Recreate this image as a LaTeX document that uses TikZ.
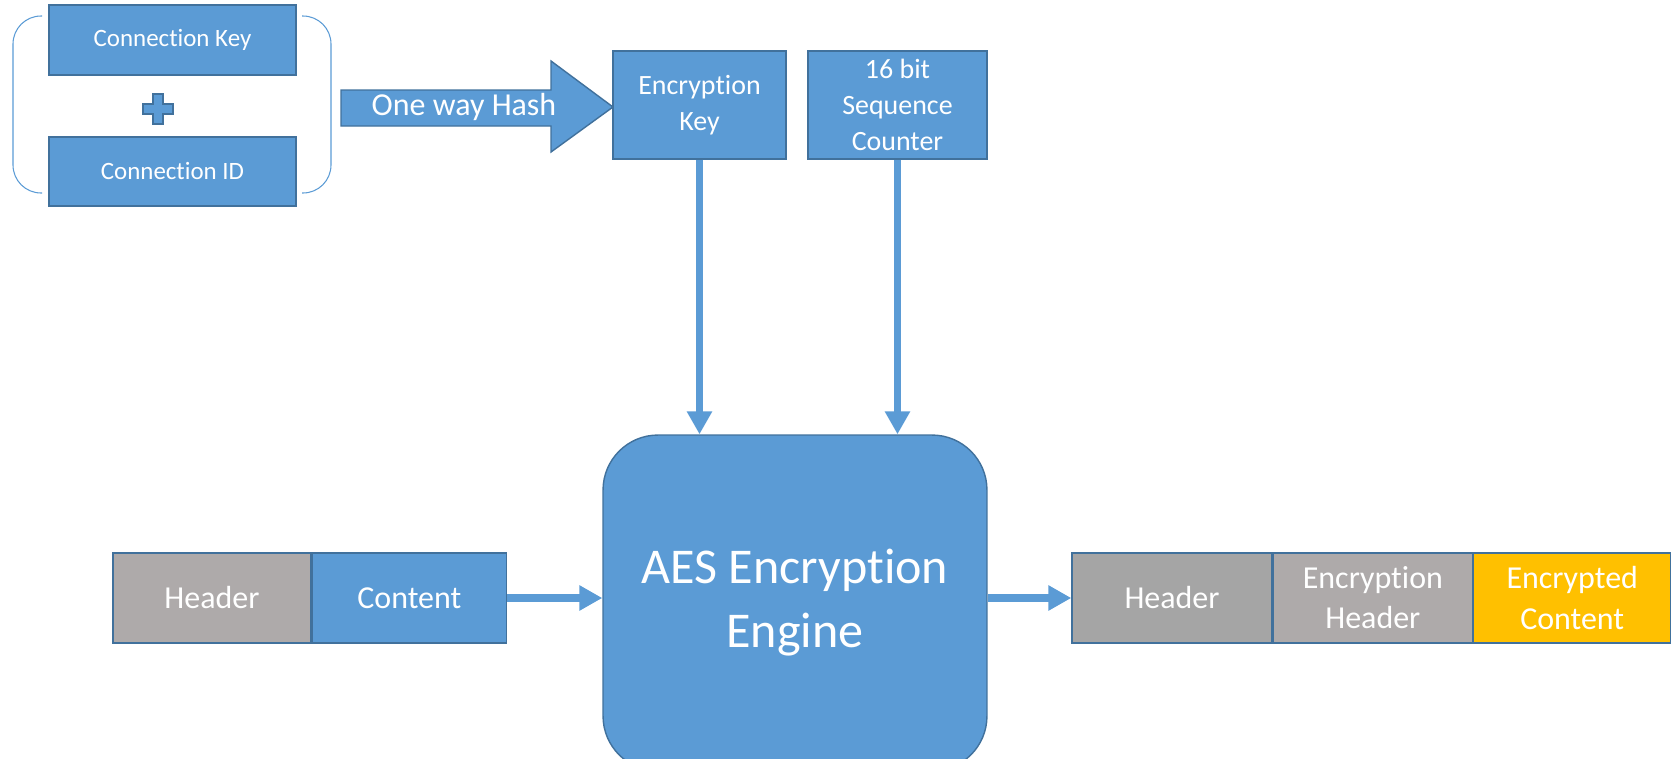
\documentclass[tikz,border=0pt]{standalone}
\usepackage{fontspec}
\setmainfont{Carlito}[Ligatures=NoCommon]
\usetikzlibrary{arrows.meta,positioning}
\definecolor{boxblue}{HTML}{5B9BD5}
\definecolor{edgeblue}{HTML}{41719C}
\definecolor{warmgray}{HTML}{AEAAAA}
\definecolor{plaingray}{HTML}{A5A5A5}
\definecolor{encyellow}{HTML}{FFC000}

\begin{document}
\begin{tikzpicture}[x=0.02cm,y=-0.02cm,>={Triangle[width=0.48cm,length=0.46cm]},
  blk/.style={draw=edgeblue,line width=0.8pt,fill=boxblue,text=white,inner sep=0pt,align=center},
  small/.style={font=\fontsize{14.2}{17}\selectfont},
  mid/.style={font=\fontsize{15.9}{20.4}\selectfont},
  big/.style={font=\fontsize{18.2}{22.8}\selectfont},
  cell/.style={blk,big,minimum height=1.8cm},
  flow/.style={->,boxblue,line width=0.15cm}]
  \useasboundingbox (0,0) rectangle (1671,758);

  \node[blk,small,minimum width=4.94cm,minimum height=1.4cm] (ckey) at (172.5,40) {Connection Key};
  \node[blk,small,minimum width=4.94cm,minimum height=1.38cm] (cid) at (172.5,171.5) {Connection ID};
  \draw[edgeblue,fill=boxblue,line width=0.6pt] (153,94) -- (163,94) -- (163,104) -- (173,104)
    -- (173,114) -- (163,114) -- (163,124) -- (153,124) -- (153,114) -- (143,114) -- (143,104)
    -- (153,104) -- cycle;
  \draw[boxblue,line width=0.6pt,rounded corners=0.56cm] (42,16) -- (13,16) -- (13,193) -- (42,193);
  \draw[boxblue,line width=0.6pt,rounded corners=0.56cm] (302,16) -- (331,16) -- (331,193) -- (302,193);

  \draw[edgeblue,fill=boxblue,line width=0.8pt] (341,90) -- (551,90) -- (551,61) -- (613,107)
    -- (551,152) -- (551,126) -- (341,126) -- cycle;
  \node[text=white,big,inner sep=0pt] (hash) at (464,107) {One way Hash};

  \node[blk,mid,minimum width=3.46cm,minimum height=2.16cm] (ekey) at (699.5,105) {Encryption\\Key};
  \node[blk,mid,minimum width=3.58cm,minimum height=2.16cm] (ctr) at (897.5,105) {16 bit\\Sequence\\Counter};

  \node[blk,rounded corners=1.1cm,minimum width=7.68cm,minimum height=6.72cm,
    font=\fontsize{28.5}{36.4}\selectfont] (engine) at (795,603) {AES Encryption\\Engine};

  \node[cell,fill=warmgray,minimum width=3.96cm] (hdrA) at (212,598) {Header};
  \node[cell,minimum width=3.88cm,right=0pt of hdrA] (cntA) {Content};

  \node[cell,fill=plaingray,minimum width=4.0cm] (hdrB) at (1172,598) {Header};
  \node[cell,fill=warmgray,minimum width=3.98cm,right=0pt of hdrB] (ehdr) {Encryption\\Header};
  \node[cell,fill=encyellow,minimum width=3.94cm,right=0pt of ehdr] (ectn) {Encrypted\\Content};

  \draw[flow] (ekey.south) -- (ekey.south |- engine.north);
  \draw[flow] (ctr.south) -- (ctr.south |- engine.north);
  \draw[flow] (cntA.east) -- (engine.west |- cntA.east);
  \draw[flow] (engine.east |- hdrB.west) -- (hdrB.west);
\end{tikzpicture}
\end{document}
